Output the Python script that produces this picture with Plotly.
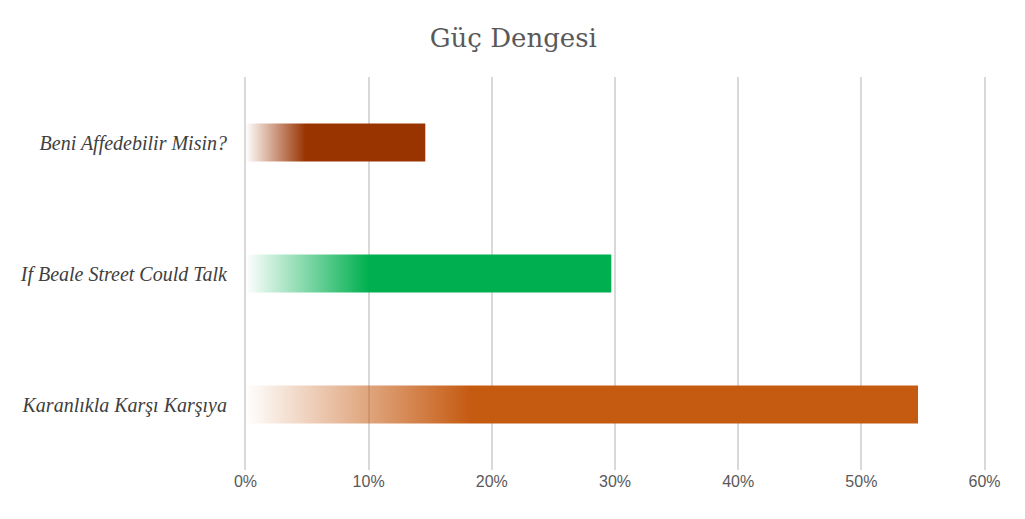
import plotly.graph_objects as go

# data
films = ["Beni Affedebilir Misin?", "If Beale Street Could Talk", "Karanlıkla Karşı Karşıya"]
shares = [0.146, 0.297, 0.546]
colors = ["153,51,0", "0,176,80", "197,90,17"]

ticks = [0, 0.1, 0.2, 0.3, 0.4, 0.5, 0.6]

half = 0.145  # half bar thickness in category units

fig = go.Figure()
for i, (name, v, c) in enumerate(zip(films, shares, colors)):
    # bar drawn as a filled rectangle so it can carry a left-to-right fade
    fig.add_trace(go.Scatter(
        x=[0, v, v, 0, 0],
        y=[i - half, i - half, i + half, i + half, i - half],
        mode="lines",
        line=dict(width=0),
        fill="toself",
        fillgradient=dict(
            type="horizontal",
            colorscale=[[0, f"rgba({c},0)"], [1, f"rgba({c},1)"]],
            start=0,
            stop=v / 3,
        ),
        name=name,
        hoverinfo="skip",
        showlegend=False,
    ))

# page body has an 8px margin, so the margins below are shifted by that
# x range padded a bit so the 0% and 60% gridlines still get drawn
fig.update_layout(
    width=1025,
    height=519,
    paper_bgcolor="white",
    plot_bgcolor="white",
    margin=dict(l=231, r=46, t=69, b=57),
    title=dict(
        text="Güç Dengesi",
        x=0.493,
        xanchor="center",
        y=0.96,
        font=dict(family="DejaVu Serif", size=26, color="#595959"),
    ),
    xaxis=dict(
        range=[-0.002, 0.602],
        tickvals=ticks,
        tickformat=".0%",
        showgrid=True,
        gridcolor="#d9d9d9",
        gridwidth=1.5,
        zeroline=False,
        showline=False,
        ticks="",
        tickfont=dict(family="Liberation Sans", size=16, color="#595959"),
        fixedrange=True,
    ),
    yaxis=dict(
        range=[2.5, -0.5],
        tickvals=list(range(len(films))),
        ticktext=[f"<i>{f}</i>" for f in films],
        showgrid=False,
        zeroline=False,
        showline=False,
        ticks="",
        ticklabelstandoff=15,
        tickfont=dict(family="Liberation Serif", size=20, color="#404040"),
        fixedrange=True,
    ),
)

fig.write_html("out.html")
